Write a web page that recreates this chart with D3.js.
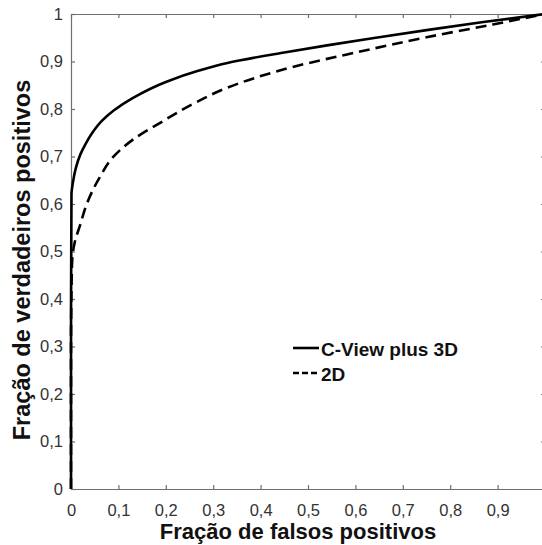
<!DOCTYPE html>
<html>
<head>
<meta charset="utf-8">
<script src="https://cdn.jsdelivr.net/npm/d3@7"></script>
<style>
  body { margin: 0; background: #fff; }
  svg { display: block; font-family: "Liberation Sans", Arial, sans-serif; }
  .axis path, .axis line { stroke: #6e6e6e; stroke-width: 1.2; }
  .axis text { fill: #333; font-size: 16.5px; }
  .title { font-weight: bold; font-size: 22px; fill: #111; }
  .legend { font-weight: bold; font-size: 19px; fill: #111; }
</style>
</head>
<body>
<svg></svg>
<script>
// C-View plus 3D curve (solid)
var fprCView = [0, 0, 0.001, 0.004, 0.01, 0.02, 0.03, 0.045, 0.065, 0.09, 0.13, 0.2, 0.27, 0.33, 0.45, 0.54, 0.65, 0.75, 0.87, 1];
var tprCView = [0, 0.3, 0.62, 0.645, 0.675, 0.705, 0.725, 0.75, 0.775, 0.797, 0.823, 0.857, 0.881, 0.897, 0.919, 0.934, 0.951, 0.966, 0.983, 1];

// 2D curve (dashed)
var fpr2D = [0, 0, 0.002, 0.008, 0.019, 0.034, 0.061, 0.089, 0.13, 0.19, 0.26, 0.33, 0.47, 0.61, 0.75, 0.89, 1];
var tpr2D = [0, 0.3, 0.47, 0.52, 0.555, 0.602, 0.657, 0.699, 0.735, 0.772, 0.812, 0.845, 0.889, 0.921, 0.951, 0.978, 1];

var seriesNames = ['C-View plus 3D', '2D'];

var xTicks = [0, 0.1, 0.2, 0.3, 0.4, 0.5, 0.6, 0.7, 0.8, 0.9];
var xTickLabels = ['0', '0,1', '0,2', '0,3', '0,4', '0,5', '0,6', '0,7', '0,8', '0,9'];
var yTicks = [0, 0.1, 0.2, 0.3, 0.4, 0.5, 0.6, 0.7, 0.8, 0.9, 1];
var yTickLabels = ['0', '0,1', '0,2', '0,3', '0,4', '0,5', '0,6', '0,7', '0,8', '0,9', '1'];

var xTitle = 'Fração de falsos positivos';
var yTitle = 'Fração de verdadeiros positivos';

var width = 542;
var height = 545;
var plotLeft = 71, plotRight = 545, plotTop = 14, plotBottom = 489;

var svg = d3.select('svg')
  .attr('width', width)
  .attr('height', height);

var x = d3.scaleLinear().domain([0, 1]).range([plotLeft, plotRight]);
var y = d3.scaleLinear().domain([0, 1]).range([plotBottom, plotTop]);

// axes (ticks point inward, like the original box)
svg.append('g')
  .attr('class', 'axis')
  .attr('transform', 'translate(0,' + plotBottom + ')')
  .call(d3.axisBottom(x).tickValues(xTicks).tickSizeInner(-4).tickSizeOuter(0).tickPadding(15)
    .tickFormat((d, i) => xTickLabels[i]));

svg.append('g')
  .attr('class', 'axis')
  .attr('transform', 'translate(0,' + plotTop + ')')
  .call(d3.axisTop(x).tickValues(xTicks).tickSizeInner(-4).tickSizeOuter(0).tickFormat(''));

svg.append('g')
  .attr('class', 'axis')
  .attr('transform', 'translate(' + plotLeft + ',0)')
  .call(d3.axisLeft(y).tickValues(yTicks).tickSizeInner(-4).tickSizeOuter(0).tickPadding(8)
    .tickFormat((d, i) => yTickLabels[i]));

svg.append('g')
  .attr('class', 'axis')
  .attr('transform', 'translate(' + plotRight + ',0)')
  .call(d3.axisRight(y).tickValues(yTicks).tickSizeInner(-4).tickSizeOuter(0).tickFormat(''));

// curves
var line = d3.line()
  .x(d => x(d[0]))
  .y(d => y(d[1]))
  .curve(d3.curveMonotoneY);

var cviewPts = d3.zip(fprCView, tprCView);
var twoDPts = d3.zip(fpr2D, tpr2D);

svg.append('path')
  .datum(twoDPts)
  .attr('d', line)
  .attr('fill', 'none')
  .attr('stroke', '#000')
  .attr('stroke-width', 2.6)
  .attr('stroke-dasharray', '11,6');

svg.append('path')
  .datum(cviewPts)
  .attr('d', line)
  .attr('fill', 'none')
  .attr('stroke', '#000')
  .attr('stroke-width', 2.6);

// axis titles
svg.append('text')
  .attr('class', 'title')
  .attr('x', 298)
  .attr('y', 539)
  .attr('text-anchor', 'middle')
  .text(xTitle);

svg.append('text')
  .attr('class', 'title')
  .style('font-size', '23.5px')
  .attr('transform', 'translate(30,260) rotate(-90)')
  .attr('text-anchor', 'middle')
  .text(yTitle);

// legend
var legend = svg.append('g');
seriesNames.forEach(function(name, i) {
  var ly = 348 + i * 25;
  legend.append('line')
    .attr('x1', 293).attr('x2', 319)
    .attr('y1', ly).attr('y2', ly)
    .attr('stroke', '#000')
    .attr('stroke-width', 2.6)
    .attr('stroke-dasharray', i === 0 ? null : '6,3');
  legend.append('text')
    .attr('class', 'legend')
    .attr('x', 321)
    .attr('y', ly + 8)
    .text(name);
});
</script>
</body>
</html>
